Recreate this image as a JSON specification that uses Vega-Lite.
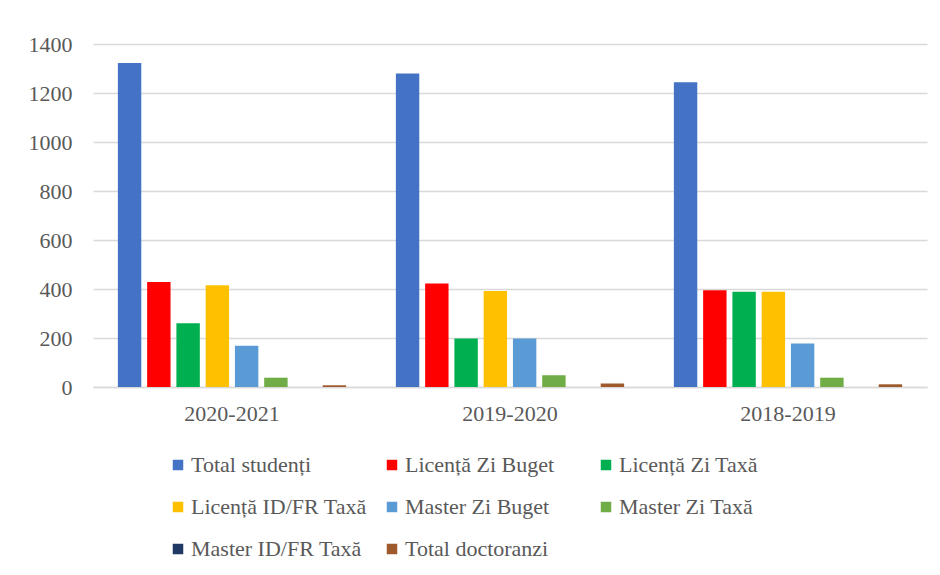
{
  "$schema": "https://vega.github.io/schema/vega-lite/v6.json",
  "width": 834,
  "height": 343,
  "autosize": "none",
  "padding": {"left": 93, "top": 44, "right": 13, "bottom": 188},
  "background": "white",
  "data": {
    "values": [
      {"an": "2020-2021", "categorie": "Total studenți", "valoare": 1322},
      {"an": "2020-2021", "categorie": "Licență Zi Buget", "valoare": 429},
      {"an": "2020-2021", "categorie": "Licență Zi Taxă", "valoare": 260},
      {"an": "2020-2021", "categorie": "Licență ID/FR Taxă", "valoare": 415},
      {"an": "2020-2021", "categorie": "Master Zi Buget", "valoare": 168},
      {"an": "2020-2021", "categorie": "Master Zi Taxă", "valoare": 38},
      {"an": "2020-2021", "categorie": "Master ID/FR Taxă", "valoare": 0},
      {"an": "2020-2021", "categorie": "Total doctoranzi", "valoare": 7},
      {"an": "2019-2020", "categorie": "Total studenți", "valoare": 1280},
      {"an": "2019-2020", "categorie": "Licență Zi Buget", "valoare": 422},
      {"an": "2019-2020", "categorie": "Licență Zi Taxă", "valoare": 198},
      {"an": "2019-2020", "categorie": "Licență ID/FR Taxă", "valoare": 392},
      {"an": "2019-2020", "categorie": "Master Zi Buget", "valoare": 198},
      {"an": "2019-2020", "categorie": "Master Zi Taxă", "valoare": 48},
      {"an": "2019-2020", "categorie": "Master ID/FR Taxă", "valoare": 0},
      {"an": "2019-2020", "categorie": "Total doctoranzi", "valoare": 14},
      {"an": "2018-2019", "categorie": "Total studenți", "valoare": 1244},
      {"an": "2018-2019", "categorie": "Licență Zi Buget", "valoare": 395},
      {"an": "2018-2019", "categorie": "Licență Zi Taxă", "valoare": 389},
      {"an": "2018-2019", "categorie": "Licență ID/FR Taxă", "valoare": 389},
      {"an": "2018-2019", "categorie": "Master Zi Buget", "valoare": 178},
      {"an": "2018-2019", "categorie": "Master Zi Taxă", "valoare": 38},
      {"an": "2018-2019", "categorie": "Master ID/FR Taxă", "valoare": 0},
      {"an": "2018-2019", "categorie": "Total doctoranzi", "valoare": 11}
    ]
  },
  "mark": {"type": "bar"},
  "encoding": {
    "x": {
      "field": "an",
      "type": "nominal",
      "sort": ["2020-2021", "2019-2020", "2018-2019"],
      "scale": {"paddingInner": 0, "paddingOuter": 0},
      "axis": {
        "title": null,
        "labelAngle": 0,
        "ticks": false,
        "domain": true,
        "domainColor": "#d9d9d9",
        "domainWidth": 1.5,
        "labelPadding": 16,
        "labelFont": "Liberation Serif",
        "labelFontSize": 22,
        "labelColor": "#595959"
      }
    },
    "xOffset": {
      "field": "categorie",
      "type": "nominal",
      "sort": ["Total studenți", "Licență Zi Buget", "Licență Zi Taxă", "Licență ID/FR Taxă", "Master Zi Buget", "Master Zi Taxă", "Master ID/FR Taxă", "Total doctoranzi"],
      "scale": {"paddingInner": 0.2, "paddingOuter": 0.85}
    },
    "y": {
      "field": "valoare",
      "type": "quantitative",
      "scale": {"domain": [0, 1400]},
      "axis": {
        "title": null,
        "values": [0, 200, 400, 600, 800, 1000, 1200, 1400],
        "format": "d",
        "domain": false,
        "ticks": false,
        "grid": true,
        "gridColor": "#d9d9d9",
        "gridWidth": 1.5,
        "labelPadding": 21,
        "labelFont": "Liberation Serif",
        "labelFontSize": 22,
        "labelColor": "#595959"
      }
    },
    "color": {
      "field": "categorie",
      "type": "nominal",
      "scale": {
        "domain": ["Total studenți", "Licență Zi Buget", "Licență Zi Taxă", "Licență ID/FR Taxă", "Master Zi Buget", "Master Zi Taxă", "Master ID/FR Taxă", "Total doctoranzi"],
        "range": ["#4472C4", "#FF0000", "#00B050", "#FFC000", "#5B9BD5", "#70AD47", "#203864", "#9E5A2C"]
      },
      "legend": {
        "title": null,
        "orient": "none",
        "legendX": 74,
        "legendY": 410,
        "direction": "horizontal",
        "columns": 3,
        "gridAlign": "all",
        "columnPadding": 14,
        "rowPadding": 20,
        "symbolType": "square",
        "symbolSize": 110,
        "symbolStrokeWidth": 0,
        "symbolOffset": 0,
        "labelOffset": 2,
        "labelFont": "Liberation Serif",
        "labelFontSize": 22,
        "labelColor": "#595959",
        "labelLimit": 300
      }
    }
  },
  "config": {
    "view": {"stroke": null}
  }
}
